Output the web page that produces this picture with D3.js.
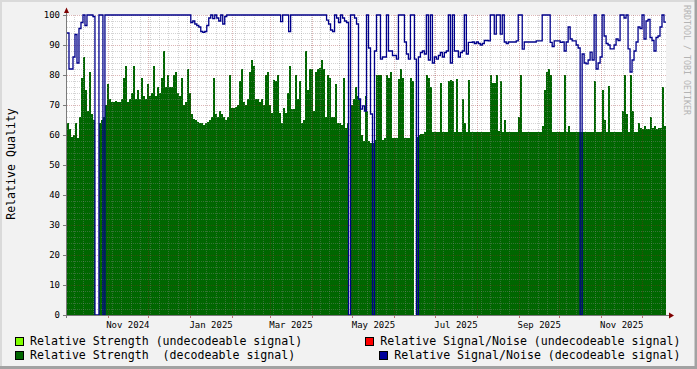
<!DOCTYPE html>
<html><head><meta charset="utf-8">
<script src="https://cdn.jsdelivr.net/npm/d3@7"></script>
<style>
html,body{margin:0;padding:0;background:#f2f2f2;}
svg{display:block;}
text{font-family:"DejaVu Sans Mono",monospace;white-space:pre;}
</style></head><body>
<svg id="c" width="697" height="369"></svg>
<script>
// ---- time span of the graph (RRD samples evenly spaced across it) ----
const START = "2024-10-02T00:00:00Z";
const END = "2025-12-18T18:00:00Z";

// Relative Strength (decodeable signal), one sample per step
const strengthDecodeable = [
 64,62,59.5,60,64,59,66,79,86,75,
 68,81,67,65,null,null,64,65,66,70,
 77,72,71,71,71.5,71,71,72,79,83,
 71,72,74,83,72,75,72,79,73,72,
 77,73,74,83,73,76,74,79,88,76,
 80,76,76,80,81,74,73,79,70,71,
 82,74,67,65.5,65,64.5,64,64,63.5,64,
 64.5,65,66,79,67,66,68,67,66,65,
 66,80,69,69,69.5,70,78,82,71,70,
 72,81,85,83,72,72,71,72,70,80,
 81,70,67.5,78.5,78,80,67.5,64,69,67.5,
 74,83,68.7,68.7,80,72,78,64,65,88,
 75,82,82,68,81,82,82.5,85,82,66,
 80,79,66,66,77,64,64,63.5,79,62.5,
 64,null,70,72,76,73,72,60,58,73,
 68,58,57.5,57.5,58.5,80,80,80,58.5,59,
 80,79,81,59,59,59,78.7,82,79,59,
 59,59,79,78,null,59.5,60,60.5,60.5,61,
 80,79,76,61,61,61,61,77.5,61,61,
 61,78,78.5,78,61,78.7,61,61,72,64,
 61,78.4,61,61,61,61,61,61,61,61,
 61,61,80,77.5,77.5,80,61.5,78,61,65,
 61,61,61,61,61,61,66,80,61,61,
 61,61,61,61,61,61,61,61,63,75,
 81,82,80,61,61,61,61,61,61,80,
 61,63,61,61,61,61,61,61,61,61,
 61,61,61,61,78,61,61,61,75,65,
 61,76.4,61,61,61,61,61,61,68,80,
 67,61,80,68,61,61,64,62.5,62,63,
 62,62,66,62.5,63,62,62.5,62.5,76,63
];

// Relative Signal/Noise (decodeable signal), one sample per step
const snrDecodeable = [
 94,82,82,86,93.5,84,95.5,97.5,100,96.5,
 100,100,100,99.5,0,0,100,100,0,100,
 100,100,100,100,100,100,100,100,100,100,
 100,100,100,100,100,100,100,100,100,100,
 100,100,100,100,100,100,100,100,100,100,
 100,100,100,100,100,100,100,100,100,100,
 100,100,97.5,98,97,96.5,96,94.5,94.2,94.5,
 96.5,99,100,98.8,100,99,98,100,97,99.5,
 100,100,100,100,100,100,100,100,100,100,
 100,100,100,100,100,100,100,100,100,100,
 100,100,100,100,100,100,100,97.8,100,100,
 100,94.5,100,100,100,100,100,100,100,100,
 100,100,100,100,100,100,100,100,100,100,
 98.3,97,95,94.5,100,99,97.5,100,99,98,
 97.5,0,100,100,99,97,72,68.6,69.7,68,
 100,89,67,0,88,100,100,85.3,86,86,
 100,88,88,86.5,86.5,85.3,100,100,100,91,
 87,85.3,100,100,85.3,0,86,87.5,88,87,
 100,85,100,84,86,85.3,86.5,87.5,86,87.5,
 88,100,84,100,88,88,86,87.5,88,100,
 87,90.9,90.9,91,90.5,91,90.5,90,90.5,91.5,
 91.5,91.4,100,100,93.6,100,100,93.6,100,91,
 90.5,91,91,91,91,91.4,100,100,88.6,91,
 91,91,91,91,91,91.4,91.4,91.4,100,100,
 100,100,90.9,89.5,91.4,91.4,91.4,90.9,91,88,
 91,96,92,91.4,91.4,90,89,0,87,84,
 83.7,85,87.6,85,100,82,84,86,100,93,
 90.5,90,88.7,88.7,90,92,91.5,100,100,99,
 100,88.7,81,85,88,91,96,95.5,100,92,
 98,98.5,92.5,91.5,88,92.5,93,96,100,97.6
];

const yTicks = [0,10,20,30,40,50,60,70,80,90,100];
const xTickLabels = ["Nov 2024","Jan 2025","Mar 2025","May 2025","Jul 2025","Sep 2025","Nov 2025"];
const xTickMonths = ["2024-11-01","2025-01-01","2025-03-01","2025-05-01","2025-07-01","2025-09-01","2025-11-01"];

const legendLabels = [
  "Relative Strength (undecodeable signal)",
  "Relative Strength  (decodeable signal)",
  "Relative Signal/Noise (undecodeable signal)",
  "Relative Signal/Noise (decodeable signal)"
];
const legendColors = ["#80ff00","#006600","#ff0000","#000099"];

const yTitle = "Relative Quality";
const watermark = "RRDTOOL / TOBI OETIKER";

// ---- layout ----
const W = 697, H = 369;
const L = 67, R = 666, T = 15, B = 315;
const svg = d3.select("#c");

const x = d3.scaleUtc().domain([new Date(START), new Date(END)]).range([L, R]);
const y = d3.scaleLinear().domain([0, 100]).range([B, T]);

// background and frame
svg.append("rect").attr("width", W).attr("height", H).attr("fill", "#f2f2f2");
svg.append("rect").attr("x",0).attr("y",0).attr("width",W).attr("height",2).attr("fill","#dadada");
svg.append("rect").attr("x",0).attr("y",0).attr("width",2).attr("height",H).attr("fill","#dadada");
svg.append("rect").attr("x",0).attr("y",H-3).attr("width",W).attr("height",3).attr("fill","#a2a2a2");
svg.append("rect").attr("x",W-2.5).attr("y",0).attr("width",2.5).attr("height",H).attr("fill","#a2a2a2");

// canvas
svg.append("rect").attr("x", L).attr("y", T).attr("width", R - L).attr("height", B - T).attr("fill", "#ffffff");

// samples
const N = strengthDecodeable.length;
const t0 = +new Date(START), t1 = +new Date(END), dt = (t1 - t0) / N;
const tAt = i => new Date(t0 + i * dt);

function runs(arr) {
  const out = []; let cur = null;
  arr.forEach((v, i) => {
    if (v == null) { cur = null; return; }
    if (!cur) { cur = []; out.push(cur); }
    cur.push({ t: tAt(i), v, i });
  });
  out.forEach(r => { const last = r[r.length - 1]; r.push({ t: tAt(last.i + 1), v: last.v, i: last.i + 1 }); });
  return out;
}

const area = d3.area().x(d => x(d.t)).y0(y(0)).y1(d => y(d.v)).curve(d3.curveStepAfter);
const gArea = svg.append("g");
runs(strengthDecodeable).forEach(r => {
  gArea.append("path").attr("d", area(r)).attr("fill", "#006600").attr("shape-rendering", "crispEdges");
});

// grid (drawn over the area, semi-transparent like rrdtool)
const grid = svg.append("g");
const minorCol = "rgba(140,140,140,0.38)";
const majorCol = "rgba(150,30,30,0.33)";
d3.range(0, 101, 2).filter(v => v % 10 !== 0).forEach(v => {
  const yy = Math.round(y(v)) + 0.5;
  grid.append("line").attr("x1", L).attr("x2", R).attr("y1", yy).attr("y2", yy)
    .attr("stroke", minorCol).attr("stroke-dasharray", "1,1");
});
const monthStarts = d3.utcMonth.range(new Date(START), new Date(END));
const monthSet = new Set(monthStarts.map(d => +d));
d3.utcMonday.range(new Date(START), new Date(END)).filter(d => !monthSet.has(+d)).forEach(d => {
  const xx = Math.round(x(d)) + 0.5;
  grid.append("line").attr("x1", xx).attr("x2", xx).attr("y1", T).attr("y2", B)
    .attr("stroke", minorCol).attr("stroke-dasharray", "1,1");
});
yTicks.filter(v => v > 0).forEach(v => {
  const yy = Math.round(y(v)) + 0.5;
  grid.append("line").attr("x1", L).attr("x2", R).attr("y1", yy).attr("y2", yy)
    .attr("stroke", majorCol).attr("stroke-dasharray", "1,1");
});
monthStarts.forEach(d => {
  const xx = Math.round(x(d)) + 0.5;
  grid.append("line").attr("x1", xx).attr("x2", xx).attr("y1", T).attr("y2", B)
    .attr("stroke", majorCol).attr("stroke-dasharray", "1,1");
  grid.append("line").attr("x1", xx).attr("x2", xx).attr("y1", B).attr("y2", B + 3)
    .attr("stroke", "rgba(150,30,30,0.6)");
});

// SNR line
const line = d3.line().x(d => x(d.t)).y(d => y(d.v)).curve(d3.curveStepAfter);
runs(snrDecodeable).forEach(r => {
  svg.append("path").attr("d", line(r)).attr("fill", "none")
    .attr("stroke", "#00008b").attr("stroke-width", 1.3).attr("stroke-linejoin", "miter");
});

// axes
const axisCol = "#7a7a7a";
svg.append("line").attr("x1", L - 0.5).attr("x2", L - 0.5).attr("y1", B + 3).attr("y2", 10).attr("stroke", axisCol);
svg.append("line").attr("x1", L - 4).attr("x2", R + 4).attr("y1", B + 0.5).attr("y2", B + 0.5).attr("stroke", axisCol);
svg.append("path").attr("d", `M${L-3},13 L${L+2},13 L${L-0.5},7.5 Z`).attr("fill", "#7f0000");
svg.append("path").attr("d", `M${R+3},${B-2.5} L${R+3},${B+3.5} L${R+8},${B+0.5} Z`).attr("fill", "#7f0000");

// y ticks and labels
yTicks.forEach(v => {
  const yy = Math.round(y(v)) + 0.5;
  svg.append("line").attr("x1", L - 4).attr("x2", L).attr("y1", yy).attr("y2", yy).attr("stroke", axisCol);
  svg.append("text").attr("x", 60).attr("y", y(v) + 3.3).attr("text-anchor", "end")
    .attr("font-size", 9).attr("fill", "#000").text(v);
});

// x labels, centred in their month
xTickLabels.forEach((lab, i) => {
  const m0 = new Date(xTickMonths[i] + "T00:00:00Z");
  const m1 = d3.utcMonth.offset(m0, 1);
  const mid = new Date((+m0 + +m1) / 2);
  svg.append("text").attr("x", x(mid)).attr("y", 327.5).attr("text-anchor", "middle")
    .attr("font-size", 9).attr("fill", "#000").text(lab);
});

// y title
svg.append("text").attr("transform", "translate(15,164) rotate(-90)").attr("text-anchor", "middle")
  .attr("font-size", 11.6).attr("fill", "#000").text(yTitle);

// watermark
svg.append("text").attr("transform", "translate(684,5) rotate(90)").attr("text-anchor", "start")
  .attr("font-size", 8.3).attr("fill", "#b4b4b4").text(watermark);

// legend
const legPos = [
  { bx: 15.5, by: 337.5, tx: 30, ty: 345.3 },
  { bx: 15.5, by: 351.5, tx: 30, ty: 359.3 },
  { bx: 365.5, by: 337.5, tx: 380.3, ty: 345.3 },
  { bx: 379.5, by: 351.5, tx: 394.3, ty: 359.3 }
];
legendLabels.forEach((lab, i) => {
  const p = legPos[i];
  svg.append("rect").attr("x", p.bx).attr("y", p.by).attr("width", 8).attr("height", 8)
    .attr("fill", legendColors[i]).attr("stroke", "#000").attr("stroke-width", 1);
  svg.append("text").attr("x", p.tx).attr("y", p.ty).attr("font-size", 11.6).attr("fill", "#000").text(lab);
});
</script>
</body></html>
